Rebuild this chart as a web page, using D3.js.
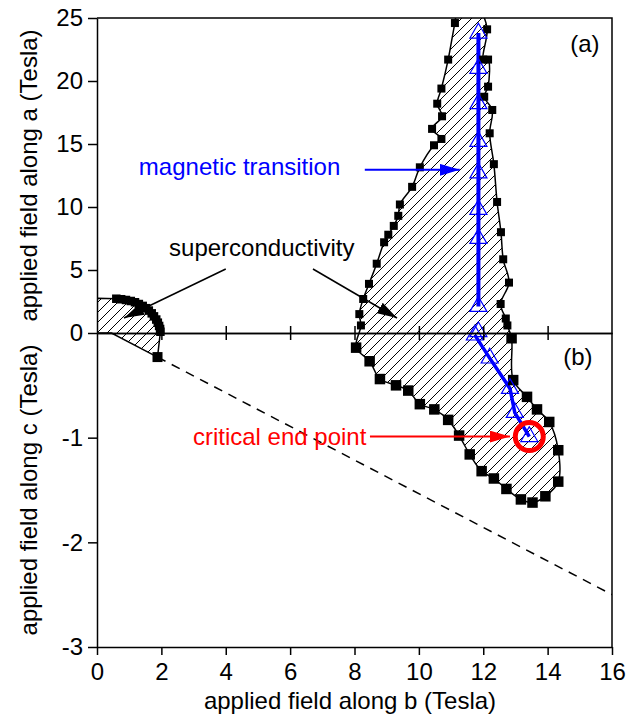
<!DOCTYPE html>
<html>
<head>
<meta charset="utf-8">
<script src="https://cdn.jsdelivr.net/npm/d3@7"></script>
<style>
  body { margin: 0; background: #fff; }
  text { font-family: "Liberation Sans", Arial, Helvetica, sans-serif; }
</style>
</head>
<body>
<div id="vis"></div>
<script>
// tick values
var bTicks = [0, 2, 4, 6, 8, 10, 12, 14, 16],
    aTicks = [0, 5, 10, 15, 20, 25],
    cTicks = [-1, -2, -3];

// small superconducting pocket near zero field, [b, a] and [b, c]
var lowTop = [[0.6, 2.72], [0.75, 2.68], [0.9, 2.62], [1.05, 2.54], [1.18, 2.44], [1.3, 2.3],
              [1.42, 2.15], [1.52, 1.97], [1.61, 1.78], [1.7, 1.56], [1.77, 1.32], [1.84, 1.07],
              [1.89, 0.82], [1.93, 0.56], [1.96, 0.32], [1.97, 0.1]];
var lowBot = [[1.88, -0.23]];
var lowEdge = [[0, 2.75], [0.45, 0], [0, 0]];

// large pocket, panel (a): left and right boundaries from top down, [b, a]
var topLeft = [[11.12, 24.6], [10.91, 21.7], [10.7, 19.4], [10.57, 18.2], [10.72, 17.2],
               [10.41, 16.2], [10.7, 15.4], [10.47, 14.9], [10.03, 13.15], [9.79, 11.6],
               [9.41, 10.2], [9.36, 9.3], [9.22, 8.5], [9.05, 7.8], [8.92, 7.2], [8.69, 5.5],
               [8.45, 3.9], [8.27, 2.7], [8.15, 1.5], [8.2, 0.6]];
var topRight = [[12.12, 24.1], [12.0, 21.7], [12.15, 21.7], [12.15, 19.55], [12.03, 18.75],
                [12.28, 17.7], [12.2, 15.85], [12.33, 13.4], [12.43, 10.4], [12.55, 8.0],
                [12.62, 5.85], [12.8, 4.0], [12.54, 2.3], [12.7, 1.15], [12.75, 0.6]];
// boundary line where it leaves the frame at the top
var topEdge = [[11.2, 25.4], [11.92, 25.4]];

// large pocket, panel (b): boundary going round, [b, c]
var botLoop = [[8.05, -0.14], [8.47, -0.27], [8.79, -0.44], [9.29, -0.5], [9.67, -0.55],
               [10.03, -0.68], [10.48, -0.73], [10.91, -0.83], [11.25, -0.98], [11.58, -1.16],
               [11.95, -1.32], [12.33, -1.39], [12.72, -1.49], [13.17, -1.59], [13.53, -1.62],
               [13.93, -1.56], [14.33, -1.42], [14.33, -1.12], [14.05, -0.85], [13.67, -0.73],
               [13.36, -0.61], [12.93, -0.45], [12.88, -0.05]];

// magnetic transition (open triangles)
var magTop = [[11.85, 23.8], [11.85, 21.0], [11.85, 18.2], [11.85, 15.2], [11.85, 12.7],
              [11.85, 9.8], [11.85, 7.5], [11.85, 2.1], [11.85, 0.1]];
var magBot = [[11.74, -0.02], [12.2, -0.24], [12.83, -0.53], [12.98, -0.76], [13.43, -0.99]];

// dashed line in panel (b)
var dashLine = [[1.88, -0.23], [16, -2.5]];
var endPoint = [13.43, -0.99];

var W = 639, H = 720, FS = 24;
var svg = d3.select("#vis").append("svg").attr("width", W).attr("height", H);

var x = d3.scaleLinear().domain([0, 16]).range([97, 612]),
    yA = d3.scaleLinear().domain([0, 25]).range([333, 18]),
    yC = d3.scaleLinear().domain([-3, 0]).range([647, 333]);

var pA = function (d) { return [x(d[0]), yA(d[1])]; },
    pC = function (d) { return [x(d[0]), yC(d[1])]; };

var defs = svg.append("defs");
defs.append("clipPath").attr("id", "plot").append("rect")
    .attr("x", x(0)).attr("y", yA(25)).attr("width", x(16) - x(0)).attr("height", yC(-3) - yA(25));

var hatch = defs.append("pattern").attr("id", "hatch")
    .attr("patternUnits", "userSpaceOnUse").attr("width", 10).attr("height", 10);
hatch.append("path").attr("d", "M-1,1 L1,-1 M0,10 L10,0 M9,11 L11,9")
    .attr("stroke", "#000").attr("stroke-width", 1);

function arrowMarker(id, color) {
    defs.append("marker").attr("id", id)
        .attr("viewBox", "0 0 20 12").attr("refX", 20).attr("refY", 6)
        .attr("markerWidth", 20).attr("markerHeight", 12)
        .attr("markerUnits", "userSpaceOnUse").attr("orient", "auto")
        .append("path").attr("d", "M0,0 L20,6 L0,12 Z").attr("fill", color);
}
arrowMarker("arrK", "#000");
arrowMarker("arrB", "#0000ff");
arrowMarker("arrR", "#ff0000");

var g = svg.append("g").attr("clip-path", "url(#plot)");

// low-field pocket
var lowPts = [pA(lowEdge[0])].concat(lowTop.map(pA), lowBot.map(pC), [pA(lowEdge[1]), pA(lowEdge[2])]);
g.append("path").attr("d", d3.line()(lowPts) + "Z")
    .attr("fill", "url(#hatch)").attr("stroke", "#000").attr("stroke-width", 1.5);

// main pocket
var mainPts = [pA(topEdge[0])].concat(topLeft.map(pA), botLoop.map(pC),
    topRight.slice().reverse().map(pA), [pA(topEdge[1])]);
var outline = d3.line().curve(d3.curveCatmullRomClosed.alpha(0.5));
g.append("path").attr("d", outline(mainPts))
    .attr("fill", "url(#hatch)").attr("stroke", "#000").attr("stroke-width", 1.5);

// dashed line
g.append("path").attr("d", d3.line()(dashLine.map(pC)))
    .attr("fill", "none").attr("stroke", "#000").attr("stroke-width", 1.5)
    .attr("stroke-dasharray", "9,7");

// blue transition lines
g.append("path").attr("d", d3.line()(magTop.slice(0, magTop.length - 1).map(pA)))
    .attr("fill", "none").attr("stroke", "#0000ff").attr("stroke-width", 4);
g.append("path").attr("d", d3.line()(magBot.map(pC)))
    .attr("fill", "none").attr("stroke", "#0000ff").attr("stroke-width", 3.5);

// square markers
function squares(data, proj, s) {
    g.selectAll(null).data(data).enter().append("rect")
        .attr("x", function (d) { return proj(d)[0] - s / 2; })
        .attr("y", function (d) { return proj(d)[1] - s / 2; })
        .attr("width", s).attr("height", s).attr("fill", "#000");
}
squares(lowTop, pA, 8.5);
squares(lowBot, pC, 10);
squares(topLeft, pA, 8);
squares(topRight, pA, 8);
squares(botLoop, pC, 10.5);

// triangle markers
var tri = d3.symbol().type(d3.symbolTriangle).size(125);
function triangles(data, proj) {
    g.selectAll(null).data(data).enter().append("path")
        .attr("d", tri)
        .attr("transform", function (d) { var p = proj(d); return "translate(" + p[0] + "," + p[1] + ")"; })
        .attr("fill", "none").attr("stroke", "#0000ff").attr("stroke-width", 1.2);
}
triangles(magTop, pA);
triangles(magBot, pC);

// critical end point
g.append("circle").attr("cx", x(endPoint[0])).attr("cy", yC(endPoint[1])).attr("r", 14)
    .attr("fill", "none").attr("stroke", "#ff0000").attr("stroke-width", 5);

// axes
function styleAxis(sel) {
    sel.selectAll("path, line").attr("stroke", "#000").attr("stroke-width", 1.5);
    sel.selectAll("text").attr("font-size", FS).attr("fill", "#000")
        .attr("font-family", "'Liberation Sans', Arial, sans-serif");
}
var plain = function (d) { return String(d); };
svg.append("g").attr("transform", "translate(" + x(0) + ",0)")
    .call(d3.axisLeft(yA).tickValues(aTicks).tickFormat(plain).tickSize(9).tickSizeOuter(0).tickPadding(5))
    .call(styleAxis);
svg.append("g").attr("transform", "translate(" + x(0) + ",0)")
    .call(d3.axisLeft(yC).tickValues(cTicks).tickFormat(plain).tickSize(9).tickSizeOuter(0).tickPadding(5))
    .call(styleAxis);
svg.append("g").attr("transform", "translate(0," + yC(-3) + ")")
    .call(d3.axisBottom(x).tickValues(bTicks).tickFormat(plain).tickSize(8).tickSizeOuter(0).tickPadding(8))
    .call(styleAxis);
// shared zero line with ticks on both sides
svg.append("g").attr("transform", "translate(0," + yA(0) + ")")
    .call(d3.axisBottom(x).tickValues(bTicks.slice(1, -1)).tickSize(7).tickSizeOuter(0).tickFormat(""))
    .call(styleAxis);
svg.append("g").attr("transform", "translate(0," + yA(0) + ")")
    .call(d3.axisTop(x).tickValues(bTicks.slice(1, -1)).tickSize(7).tickSizeOuter(0).tickFormat(""))
    .call(styleAxis);
// frame top and right
svg.append("path")
    .attr("d", "M" + x(0) + "," + yA(25) + "H" + x(16) + "V" + yC(-3))
    .attr("fill", "none").attr("stroke", "#000").attr("stroke-width", 1.5);

// axis titles
svg.append("text").attr("x", 350).attr("y", 701).attr("dy", "0.35em")
    .attr("text-anchor", "middle").attr("font-size", FS).text("applied field along b (Tesla)");
svg.append("text").attr("transform", "translate(29," + (yA(0) + yA(25)) / 2 + ") rotate(-90)")
    .attr("dy", "0.35em").attr("text-anchor", "middle").attr("font-size", FS)
    .text("applied field along a (Tesla)");
svg.append("text").attr("transform", "translate(29," + (yC(0) + yC(-3)) / 2 + ") rotate(-90)")
    .attr("dy", "0.35em").attr("text-anchor", "middle").attr("font-size", FS)
    .text("applied field along c (Tesla)");

// panel labels
svg.append("text").attr("x", x(15.16)).attr("y", yA(23.0)).attr("dy", "0.35em")
    .attr("text-anchor", "middle").attr("font-size", FS).text("(a)");
svg.append("text").attr("x", x(14.94)).attr("y", yC(-0.23)).attr("dy", "0.35em")
    .attr("text-anchor", "middle").attr("font-size", FS).text("(b)");

// annotations
function arrow(from, to, proj, color, marker, w) {
    var a = proj(from), b = proj(to);
    svg.append("line").attr("x1", a[0]).attr("y1", a[1]).attr("x2", b[0]).attr("y2", b[1])
        .attr("stroke", color).attr("stroke-width", w).attr("marker-end", "url(#" + marker + ")");
}
svg.append("text").attr("x", x(1.3)).attr("y", yA(13.2)).attr("dy", "0.35em")
    .attr("font-size", FS).attr("fill", "#0000ff").text("magnetic transition");
arrow([8.32, 12.95], [11.27, 12.95], pA, "#0000ff", "arrB", 2);

svg.append("text").attr("x", x(5.12)).attr("y", yA(6.75)).attr("dy", "0.35em")
    .attr("text-anchor", "middle").attr("font-size", FS).attr("fill", "#000").text("superconductivity");
arrow([4.0, 5.08], [0.84, 1.19], pA, "#000", "arrK", 1.5);
arrow([6.71, 5.08], [9.32, 1.19], pA, "#000", "arrK", 1.5);

svg.append("text").attr("x", x(2.98)).attr("y", yC(-0.99)).attr("dy", "0.35em")
    .attr("font-size", FS).attr("fill", "#ff0000").text("critical end point");
arrow([8.48, -0.99], [12.83, -0.99], pC, "#ff0000", "arrR", 2);
</script>
</body>
</html>
